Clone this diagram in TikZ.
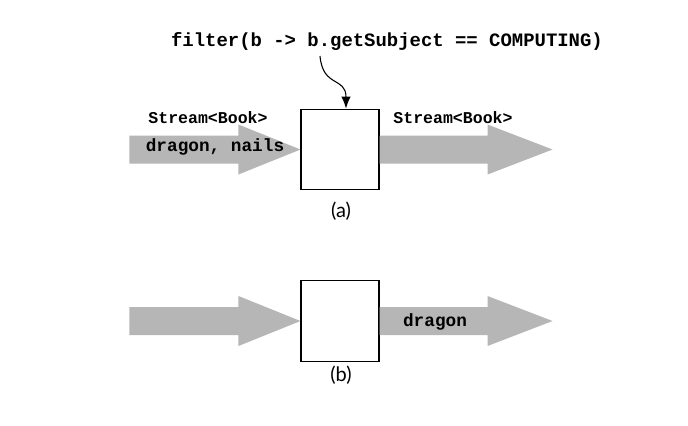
\documentclass[tikz,border=0pt]{standalone}
\usepackage{fontspec}
\setmonofont{Liberation Mono}
\setsansfont{Lato}
\usetikzlibrary{arrows.meta,positioning}

\definecolor{streamgray}{RGB}{182,182,182}

\begin{document}
\begin{tikzpicture}[x=0.75pt,y=-0.75pt,
  opbox/.style={draw,line width=0.8pt,fill=white,minimum width=58.5pt,minimum height=60.5pt,inner sep=0pt},
  fat/.style={fill=streamgray},
  code/.style={font=\ttfamily\bfseries\fontsize{13.3}{15}\selectfont,inner sep=0pt},
  small/.style={font=\ttfamily\bfseries\fontsize{12.4}{14}\selectfont,inner sep=0pt},
  sublabel/.style={font=\sffamily\fontsize{15}{17}\selectfont,inner sep=0pt}]
\useasboundingbox (0,0) rectangle (688,425);

% (a)
\node[opbox] (boxa) at (340,149.5) {};
\fill[fat] (boxa.west) -- ++(-62,-25) -- ++(0,11) -- ++(-109,0) -- ++(0,28) -- ++(109,0) -- ++(0,11) -- cycle;
\fill[fat] (boxa.east) ++(0,-14) -- ++(108,0) -- ++(0,-11) -- ++(65,25) -- ++(-65,25) -- ++(0,-11) -- ++(-108,0) -- cycle;
\node[code,font=\ttfamily\bfseries\fontsize{14.2}{16}\selectfont] (filter) at (387,42) {filter(b -> b.getSubject == COMPUTING)};
\node[small] (ina) at (208,118) {Stream<Book>};
\node[small] (outa) at (453,118) {Stream<Book>};
\node[code] (items) at (215,147) {dragon, nails};
\node[sublabel] (capa) at (341,211) {(a)};
\coordinate (src) at (320,56);
\draw[line width=0.8pt,-{Latex[length=9pt,width=7pt]}] (src) to[out=-85,in=90,looseness=1.4] ([xshift=4.5pt]boxa.north);

% (b)
\node[opbox] (boxb) at (340,321) {};
\fill[fat] (boxb.west) -- ++(-62,-25) -- ++(0,11) -- ++(-109,0) -- ++(0,28) -- ++(109,0) -- ++(0,11) -- cycle;
\fill[fat] (boxb.east) ++(0,-14) -- ++(108,0) -- ++(0,-11) -- ++(65,25) -- ++(-65,25) -- ++(0,-11) -- ++(-108,0) -- cycle;
\node[code] (kept) at (435,322) {dragon};
\node[sublabel] (capb) at (341,375) {(b)};

\end{tikzpicture}
\end{document}
